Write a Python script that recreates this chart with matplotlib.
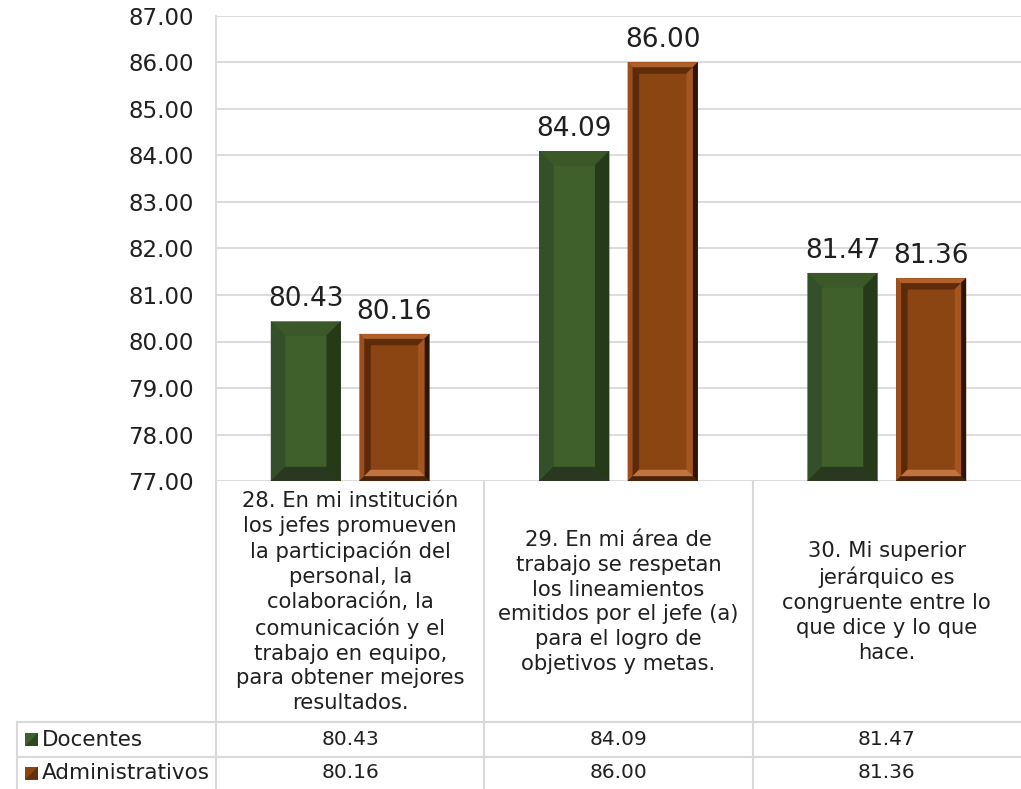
import matplotlib
matplotlib.use("Agg")
import matplotlib.pyplot as plt
from matplotlib.patches import Polygon, Rectangle
from matplotlib.lines import Line2D
import numpy as np

plt.rcParams['font.family'] = ['DejaVu Sans']

# datos de la gráfica
preguntas = [
    "28. En mi institución\nlos jefes promueven\nla participación del\npersonal, la\ncolaboración, la\ncomunicación y el\ntrabajo en equipo,\npara obtener mejores\nresultados.",
    "29. En mi área de\ntrabajo se respetan\nlos lineamientos\nemitidos por el jefe (a)\npara el logro de\nobjetivos y metas.",
    "30. Mi superior\njerárquico es\ncongruente entre lo\nque dice y lo que\nhace.",
]
series = ["Docentes", "Administrativos"]
docentes = [80.43, 84.09, 81.47]
administrativos = [80.16, 86.00, 81.36]
yticks = [77, 78, 79, 80, 81, 82, 83, 84, 85, 86, 87]

W, H = 1021, 789
TXT = '#1f1f1f'
GRID = '#d9d9d9'

fig = plt.figure(figsize=(W / 100, H / 100), dpi=100)
ax = fig.add_axes([216 / W, (H - 481) / H, 805 / W, 465 / H])

x = np.arange(len(docentes))
ancho = 0.26
b1 = ax.bar(x - 0.165, docentes, ancho, bottom=0, color='#3f5f2b', zorder=3)
b2 = ax.bar(x + 0.165, administrativos, ancho, bottom=0, color='#8b4513', zorder=3)

ax.set_xlim(-0.5, 2.5)
ax.set_ylim(77, 87)
ax.set_yticks(yticks)
ax.set_yticklabels([f"{t:.2f}" for t in yticks], fontsize=16.5, color=TXT)
ax.tick_params(axis='y', length=0, pad=16)
ax.set_xticks([])
ax.grid(axis='y', color=GRID, lw=1.3, zorder=0)
for s in ['top', 'right', 'bottom']:
    ax.spines[s].set_visible(False)
ax.spines['left'].set_color(GRID)
ax.spines['left'].set_linewidth(1.3)

fig.canvas.draw()
inv = ax.transData.inverted()


def to_data(pts):
    return inv.transform(np.array(pts))


def bisel(x0, y0, x1, y1, b, cols, z=4):
    # cols: arriba, izquierda, derecha, abajo (coordenadas en pixeles)
    arriba = [(x0, y1), (x1, y1), (x1 - b, y1 - b), (x0 + b, y1 - b)]
    izq = [(x0, y0), (x0, y1), (x0 + b, y1 - b), (x0 + b, y0 + b)]
    der = [(x1, y0), (x1, y1), (x1 - b, y1 - b), (x1 - b, y0 + b)]
    abajo = [(x0, y0), (x1, y0), (x1 - b, y0 + b), (x0 + b, y0 + b)]
    for poly, c in zip([arriba, izq, der, abajo], cols):
        p = Polygon(to_data(poly), closed=True, facecolor=c, edgecolor=c, lw=0.3, zorder=z)
        ax.add_patch(p)


def barra_verde(x0, y0, x1, y1):
    bisel(x0, y0, x1, y1, 14, ['#3a5828', '#33502a', '#243a18', '#29391f'])


def barra_cafe(x0, y0, x1, y1):
    bisel(x0, y0, x1, y1, 5, ['#b0602a', '#9c4e1c', '#2e1405', '#4a2308'])
    bisel(x0 + 5, y0 + 5, x1 - 5, y1 - 5, 6, ['#5e2c0b', '#5a2a0a', '#a5561f', '#c27440'])


y_base = ax.transData.transform((0, 77))[1]
for rects, fn in [(b1, barra_verde), (b2, barra_cafe)]:
    for r in rects:
        bb = r.get_window_extent()
        fn(bb.x0, y_base, bb.x1, bb.y1)

# etiquetas de valor
for rects, vals in [(b1, docentes), (b2, administrativos)]:
    for r, v in zip(rects, vals):
        ax.annotate(f"{v:.2f}", (r.get_x() + r.get_width() / 2, v), xytext=(0, 11),
                    textcoords='offset points', ha='center', va='baseline',
                    fontsize=19, color=TXT, zorder=5)


# tabla de datos debajo del eje
def fig_line(xs, ys):
    fig.add_artist(Line2D([v / W for v in xs], [1 - v / H for v in ys], color=GRID, lw=1.5))


bordes = [ax.transData.transform((b, 0))[0] for b in [-0.5, 0.5, 1.5]]
for bx in bordes:
    fig_line([bx, bx], [481, H])
fig_line([17, 17], [722, H])
fig_line([17, W], [722, 722])
fig_line([17, W], [757, 757])

centros = [ax.transData.transform((c, 0))[0] for c in x]
for cx, txt in zip(centros, preguntas):
    fig.text(cx / W, 1 - 602 / H, txt, ha='center', va='center', fontsize=15.2,
             color=TXT, linespacing=1.3)

filas = [(docentes, 739.5), (administrativos, 773)]
for (vals, fy) in filas:
    for cx, v in zip(centros, vals):
        fig.text(cx / W, 1 - fy / H, f"{v:.2f}", ha='center', va='center', fontsize=14.5, color=TXT)

# claves de la leyenda en la tabla
kax = fig.add_axes([0, 0, 1, 1], zorder=-1)
kax.set_xlim(0, W)
kax.set_ylim(0, H)
kax.axis('off')
for (nombre, fy), color in zip(zip(series, [739.5, 773]), ['#3f5f2b', '#8b4513']):
    k0, k1 = 25, 38
    ky0, ky1 = H - fy - 6.5, H - fy + 6.5
    kax.add_patch(Rectangle((k0, ky0), k1 - k0, ky1 - ky0, facecolor=color, edgecolor='none'))
    kax.add_patch(Polygon([(k0, ky0), (k1, ky1), (k1, ky0)], closed=True,
                          facecolor='#243a18' if color == '#3f5f2b' else '#4a2308', edgecolor='none',
                          alpha=0.6))
    fig.text(42 / W, 1 - fy / H, nombre, ha='left', va='center', fontsize=15.5, color=TXT)

fig.savefig("out.png", dpi=100)
